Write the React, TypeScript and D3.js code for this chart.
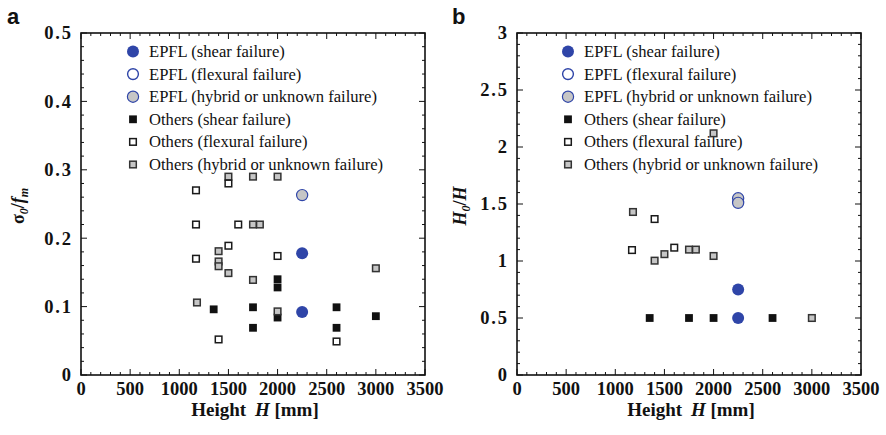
import React from "react";
import * as d3 from "d3";

// ---------- DATA ----------
// Panel a: sigma0 / fm vs Height H [mm]
const aEpflShear: [number, number][] = [[2250, 0.178], [2250, 0.092]];
const aEpflFlex: [number, number][] = [];
const aEpflHybrid: [number, number][] = [[2250, 0.263]];
const aOthersShear: [number, number][] = [
  [1350, 0.096], [1750, 0.099], [1750, 0.069], [2000, 0.140], [2000, 0.128],
  [2000, 0.084], [2600, 0.099], [2600, 0.069], [3000, 0.086],
];
const aOthersHybrid: [number, number][] = [
  [1180, 0.106], [1400, 0.181], [1400, 0.166], [1400, 0.159], [1500, 0.290],
  [1500, 0.149], [1750, 0.290], [1750, 0.220], [1750, 0.139], [1820, 0.220],
  [2000, 0.290], [2000, 0.093], [3000, 0.156],
];
const aOthersFlex: [number, number][] = [
  [1170, 0.270], [1170, 0.220], [1170, 0.170], [1400, 0.052], [1500, 0.280],
  [1500, 0.189], [1600, 0.220], [2000, 0.174], [2600, 0.049],
];

// Panel b: H0 / H vs Height H [mm]
const bEpflShear: [number, number][] = [[2250, 0.75], [2250, 0.5]];
const bEpflFlex: [number, number][] = [];
const bEpflHybrid: [number, number][] = [[2250, 1.55], [2250, 1.51]];
const bOthersShear: [number, number][] = [[1350, 0.5], [1750, 0.5], [2000, 0.5], [2600, 0.5]];
const bOthersHybrid: [number, number][] = [
  [1180, 1.43], [1400, 1.003], [1500, 1.06], [1750, 1.10], [1820, 1.10],
  [2000, 1.044], [2000, 2.12], [3000, 0.5],
];
const bOthersFlex: [number, number][] = [[1170, 1.096], [1400, 1.368], [1600, 1.117]];

const xTicks = [0, 500, 1000, 1500, 2000, 2500, 3000, 3500];
const aYTicks = [0, 0.1, 0.2, 0.3, 0.4, 0.5];
const bYTicks = [0, 0.5, 1, 1.5, 2, 2.5, 3];
const legendLabels = [
  "EPFL (shear failure)",
  "EPFL (flexural failure)",
  "EPFL (hybrid or unknown failure)",
  "Others (shear failure)",
  "Others (flexural failure)",
  "Others (hybrid or unknown failure)",
];

// ---------- STYLE ----------
const BLUE = "#2f45a8";
const GRAY = "#c6c6c6";
const DARK = "#1a1a1a";
const SERIF = "'Liberation Serif', 'Times New Roman', serif";
const SANS = "'Liberation Sans', Arial, sans-serif";

type MarkerKind = "eShear" | "eFlex" | "eHybrid" | "oShear" | "oFlex" | "oHybrid";
const legendKinds: MarkerKind[] = ["eShear", "eFlex", "eHybrid", "oShear", "oFlex", "oHybrid"];

function Marker({ kind, x, y }: { kind: MarkerKind; x: number; y: number }) {
  switch (kind) {
    case "eShear":
      return <circle cx={x} cy={y} r={6} fill={BLUE} />;
    case "eFlex":
      return <circle cx={x} cy={y} r={5.4} fill="#fff" stroke={BLUE} strokeWidth={1.4} />;
    case "eHybrid":
      return <circle cx={x} cy={y} r={5.6} fill={GRAY} stroke={BLUE} strokeWidth={1.2} />;
    case "oShear":
      return <rect x={x - 3.9} y={y - 3.9} width={7.8} height={7.8} fill="#111" />;
    case "oFlex":
      return <rect x={x - 3.3} y={y - 3.3} width={6.6} height={6.6} fill="#fff" stroke={DARK} strokeWidth={1.5} />;
    case "oHybrid":
      return <rect x={x - 3.3} y={y - 3.3} width={6.6} height={6.6} fill={GRAY} stroke="#333" strokeWidth={1.5} />;
  }
}

type Series = { kind: MarkerKind; data: [number, number][] };

function YTickLabel({ s, x, y }: { s: string; x: number; y: number }) {
  const parts = s.split(".");
  if (parts.length === 1) {
    return (
      <text x={x} y={y} textAnchor="end">
        {s}
      </text>
    );
  }
  return (
    <text x={x} y={y} textAnchor="end">
      <tspan>{parts[0]}</tspan>
      <tspan dx={1.8}>.</tspan>
      <tspan dx={1.8}>{parts[1]}</tspan>
    </text>
  );
}

function Panel(props: {
  left: number;
  right: number;
  top: number;
  bottom: number;
  yMax: number;
  yTicks: number[];
  yMinorStep: number;
  yFmt: (v: number) => string;
  series: Series[];
  legendX: number;
  yLabel: React.ReactNode;
  yLabelX: number;
  panelLabel: string;
  panelLabelX: number;
}) {
  const { left, right, top, bottom } = props;
  const x = d3.scaleLinear().domain([0, 3500]).range([left, right]);
  const y = d3.scaleLinear().domain([0, props.yMax]).range([bottom, top]);
  const xMinor = d3.range(0, 3500 + 1, 100).filter((v) => v % 500 !== 0);
  const nMinorY = Math.round(props.yMax / props.yMinorStep);
  const yMinor = d3
    .range(0, nMinorY + 1)
    .map((i) => i * props.yMinorStep)
    .filter((v) => !props.yTicks.some((t) => Math.abs(t - v) < 1e-9));
  const MAJ = 6;
  const MIN = 3;
  const legendRowY = (i: number) => 51.5 + i * 22.6;
  return (
    <g>
      <text x={props.panelLabelX} y={24} fontFamily={SANS} fontWeight="bold" fontSize={22} fill="#111">
        {props.panelLabel}
      </text>
      <g stroke="#111" strokeWidth={1}>
        {xTicks.map((t) => (
          <g key={"xt" + t}>
            <line x1={x(t)} x2={x(t)} y1={bottom} y2={bottom - MAJ} />
            <line x1={x(t)} x2={x(t)} y1={top} y2={top + MAJ} />
          </g>
        ))}
        {xMinor.map((t) => (
          <g key={"xm" + t}>
            <line x1={x(t)} x2={x(t)} y1={bottom} y2={bottom - MIN} />
            <line x1={x(t)} x2={x(t)} y1={top} y2={top + MIN} />
          </g>
        ))}
        {props.yTicks.map((t) => (
          <g key={"yt" + t}>
            <line x1={left} x2={left + MAJ} y1={y(t)} y2={y(t)} />
            <line x1={right} x2={right - MAJ} y1={y(t)} y2={y(t)} />
          </g>
        ))}
        {yMinor.map((t) => (
          <g key={"ym" + t}>
            <line x1={left} x2={left + MIN} y1={y(t)} y2={y(t)} />
            <line x1={right} x2={right - MIN} y1={y(t)} y2={y(t)} />
          </g>
        ))}
      </g>
      <rect x={left} y={top} width={right - left} height={bottom - top} fill="none" stroke="#111" strokeWidth={1.6} />
      <g fontFamily={SERIF} fontWeight="bold" fontSize={18.5} fill="#111">
        {xTicks.map((t) => (
          <text key={"xl" + t} x={x(t)} y={bottom + 20} textAnchor="middle">
            {String(t)}
          </text>
        ))}
        {props.yTicks.map((t) => (
          <YTickLabel key={"yl" + t} s={props.yFmt(t)} x={left - 10} y={y(t) + 6.3} />
        ))}
      </g>
      <text x={(left + right) / 2 + 2} y={416} textAnchor="middle" fontFamily={SERIF} fontWeight="bold" fontSize={19} fill="#111">
        Height<tspan dx={4} fontStyle="italic">{" H"}</tspan> [mm]
      </text>
      <g transform={`translate(${props.yLabelX},${(top + bottom) / 2 + 2}) rotate(-90)`}>
        <text x={0} y={0} textAnchor="middle" fontFamily={SERIF} fontWeight="bold" fontSize={18} fill="#111">
          {props.yLabel}
        </text>
      </g>
      <g>
        {legendKinds.map((k, i) => (
          <g key={k}>
            <Marker kind={k} x={props.legendX} y={legendRowY(i)} />
            <text x={props.legendX + 16} y={legendRowY(i) + 5.5} fontFamily={SERIF} fontSize={16.6} fill="#111">
              {legendLabels[i]}
            </text>
          </g>
        ))}
      </g>
      {props.series.map((s, si) => (
        <g key={"s" + si}>
          {s.data.map((d, i) => (
            <Marker key={i} kind={s.kind} x={x(d[0])} y={y(d[1])} />
          ))}
        </g>
      ))}
    </g>
  );
}

export default function App() {
  const seriesA: Series[] = [
    { kind: "oShear", data: aOthersShear },
    { kind: "oHybrid", data: aOthersHybrid },
    { kind: "oFlex", data: aOthersFlex },
    { kind: "eFlex", data: aEpflFlex },
    { kind: "eHybrid", data: aEpflHybrid },
    { kind: "eShear", data: aEpflShear },
  ];
  const seriesB: Series[] = [
    { kind: "oShear", data: bOthersShear },
    { kind: "oHybrid", data: bOthersHybrid },
    { kind: "oFlex", data: bOthersFlex },
    { kind: "eFlex", data: bEpflFlex },
    { kind: "eHybrid", data: bEpflHybrid },
    { kind: "eShear", data: bEpflShear },
  ];
  return (
    <svg
      width={886}
      height={435}
      style={{ position: "absolute", left: 0, top: 0, background: "#fff" }}
    >
      <rect x={0} y={0} width={886} height={435} fill="#fff" />
      <Panel
        left={81}
        right={425}
        top={33}
        bottom={375}
        yMax={0.5}
        yTicks={aYTicks}
        yMinorStep={0.02}
        yFmt={(v) => (v === 0 ? "0" : d3.format(".1f")(v))}
        series={seriesA}
        legendX={133}
        yLabelX={24}
        yLabel={
          <>
            σ<tspan dy={4} fontSize={12} fontStyle="italic">0</tspan>
            <tspan dy={-4}>/</tspan>
            <tspan fontStyle="italic">f</tspan>
            <tspan dy={4} fontSize={12} fontStyle="italic">m</tspan>
          </>
        }
        panelLabel="a"
        panelLabelX={7}
      />
      <Panel
        left={517}
        right={861}
        top={33}
        bottom={375}
        yMax={3}
        yTicks={bYTicks}
        yMinorStep={0.1}
        yFmt={(v) => String(v)}
        series={seriesB}
        legendX={568}
        yLabelX={466}
        yLabel={
          <>
            <tspan fontStyle="italic">H</tspan>
            <tspan dy={4} fontSize={12} fontStyle="italic">0</tspan>
            <tspan dy={-4}>/</tspan>
            <tspan fontStyle="italic">H</tspan>
          </>
        }
        panelLabel="b"
        panelLabelX={452}
      />
    </svg>
  );
}
